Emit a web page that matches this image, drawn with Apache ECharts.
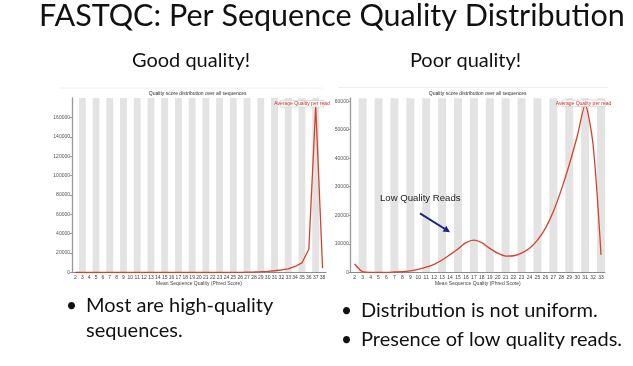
<!DOCTYPE html>
<html>
<head>
<meta charset="utf-8">
<script src="https://cdn.jsdelivr.net/npm/echarts@6/dist/echarts.min.js"></script>
<style>
html,body{margin:0;padding:0;background:#fff;}
#main{width:633px;height:366px;}
</style>
</head>
<body>
<div id="main"></div>
<script>
// ---- data ----
const goodCategories = ['2','3','4','5','6','7','8','9','10','11','12','13','14','15','16','17','18','19','20','21','22','23','24','25','26','27','28','29','30','31','32','33','34','35','36','37','38'];
const goodValues = [0,0,0,0,0,0,0,0,0,0,0,0,0,0,0,0,0,0,0,0,0,0,50,100,200,350,500,800,1200,1800,2600,3800,6200,10000,24000,172000,4500];
const poorCategories = ['2','3','4','5','6','7','8','9','10','11','12','13','14','15','16','17','18','19','20','21','22','23','24','25','26','27','28','29','30','31','32','33'];
const poorValues = [2900,200,0,0,0,100,200,500,1000,1800,2800,4300,6200,8200,10400,11300,10400,8400,6700,5700,5800,6700,8400,11300,15400,21300,28900,37700,47600,58700,44700,6100];
const seriesName = 'Average Quality per read';
const chartTitle = 'Quality score distribution over all sequences';
const xAxisName = 'Mean Sequence Quality (Phred Score)';
const slideTitle = 'FASTQC: Per Sequence Quality Distribution';
const leftHeading = 'Good quality!';
const rightHeading = 'Poor quality!';
const leftBullets = ['Most are high-quality', 'sequences.'];
const rightBullets = ['Distribution is not uniform.', 'Presence of low quality reads.'];
const annotation = 'Low Quality Reads';

const chart = echarts.init(document.getElementById('main'), null, {renderer:'canvas'});
const red = '#d8402c';
const slideFont = 'Lato';

function xAx(gi, cats){
  return {
    gridIndex: gi, type:'category', data: cats, boundaryGap: true,
    axisLine:{show:true, lineStyle:{color:'#8a8a8a', width:1}},
    axisTick:{show:false},
    axisLabel:{fontSize:5, color:'#444', margin:2.5, interval:0, fontFamily:'Liberation Sans'},
    splitLine:{show:false},
    splitArea:{show:true, interval:0, areaStyle:{color:['rgba(255,255,255,0)','#e3e3e3']}},
    name: xAxisName, nameLocation:'middle', nameGap:9,
    nameTextStyle:{fontSize:5, color:'#444', fontFamily:'Liberation Sans'}
  };
}
function yAx(gi, max, interval){
  return {
    gridIndex: gi, type:'value', min:0, max:max, interval:interval,
    axisLine:{show:true, lineStyle:{color:'#999', width:1.3}},
    axisTick:{show:true, length:2, lineStyle:{color:'#999'}},
    axisLabel:{fontSize:5, color:'#555', margin:2, showMaxLabel:false, fontFamily:'Liberation Sans',
      formatter:function(v){return String(v);}},
    splitLine:{show:false}
  };
}

const option = {
  backgroundColor:'#fff',
  animation:false,
  grid:[
    {left:72, top:98, width:254, height:174.5},
    {left:350.7, top:98.3, width:254.3, height:174}
  ],
  xAxis:[xAx(0, goodCategories), xAx(1, poorCategories)],
  yAxis:[yAx(0, 180000, 20000), yAx(1, 61000, 10000)],
  series:[
    {name:seriesName, type:'line', xAxisIndex:0, yAxisIndex:0, data:goodValues,
     symbol:'none', lineStyle:{color:red, width:1.3}, z:3},
    {name:seriesName, type:'line', xAxisIndex:1, yAxisIndex:1, data:poorValues,
     symbol:'none', smooth:0.25, lineStyle:{color:red, width:1.3}, z:3}
  ],
  graphic:[
    // slide texts
    {type:'text', left:39, top:1, style:{text:slideTitle, font:'30.5px '+slideFont, fill:'#111'}},
    {type:'text', x:191, y:61, style:{text:leftHeading, font:'20px '+slideFont, fill:'#111', align:'center', verticalAlign:'middle'}},
    {type:'text', x:465.5, y:61, style:{text:rightHeading, font:'20px '+slideFont, fill:'#111', align:'center', verticalAlign:'middle'}},
    {type:'text', x:66, y:306, style:{text:'\u2022', font:'19px '+slideFont, fill:'#111', verticalAlign:'middle'}},
    {type:'text', x:86, y:306, style:{text:leftBullets[0], font:'20px '+slideFont, fill:'#111', verticalAlign:'middle'}},
    {type:'text', x:86, y:331, style:{text:leftBullets[1], font:'20px '+slideFont, fill:'#111', verticalAlign:'middle'}},
    {type:'text', x:341, y:311, style:{text:'\u2022', font:'19px '+slideFont, fill:'#111', verticalAlign:'middle'}},
    {type:'text', x:361, y:311, style:{text:rightBullets[0], font:'20px '+slideFont, fill:'#111', verticalAlign:'middle'}},
    {type:'text', x:341, y:340, style:{text:'\u2022', font:'19px '+slideFont, fill:'#111', verticalAlign:'middle'}},
    {type:'text', x:361, y:340, style:{text:rightBullets[1], font:'20px '+slideFont, fill:'#111', verticalAlign:'middle'}},
    // faint frames above charts
    {type:'line', shape:{x1:59, y1:88, x2:322, y2:88}, style:{stroke:'#eeeeee', lineWidth:1}},
    {type:'line', shape:{x1:338, y1:87.5, x2:608, y2:87.5}, style:{stroke:'#eeeeee', lineWidth:1}},
    // small chart titles
    {type:'text', x:197.7, y:94, style:{text:chartTitle, font:'5px Liberation Sans', fill:'#333', align:'center', verticalAlign:'middle'}},
    {type:'text', x:477.7, y:93.3, style:{text:chartTitle, font:'5px Liberation Sans', fill:'#333', align:'center', verticalAlign:'middle'}},
    // legend boxes
    {type:'rect', shape:{x:280, y:100.5, width:44, height:6.5}, style:{fill:'#fff', stroke:'#c8c8c8', lineWidth:0.6}, z:10},
    {type:'text', x:302, y:103.8, style:{text:seriesName, font:'5px Liberation Sans', fill:'#d62a1e', align:'center', verticalAlign:'middle'}, z:11},
    {type:'rect', shape:{x:562, y:100, width:43, height:6.5}, style:{fill:'#fff', stroke:'#c8c8c8', lineWidth:0.6}, z:10},
    {type:'text', x:583.5, y:103.3, style:{text:seriesName, font:'5px Liberation Sans', fill:'#d62a1e', align:'center', verticalAlign:'middle'}, z:11},
    // annotation
    {type:'text', x:380, y:198, style:{text:annotation, font:'9.6px Liberation Sans', fill:'#222', verticalAlign:'middle'}, z:11},
    {type:'line', shape:{x1:420, y1:213.3, x2:445, y2:229}, style:{stroke:'#1c2580', lineWidth:2}, z:11},
    {type:'polygon', shape:{points:[[450,232.3],[442.6,231.6],[446.2,225.8]]}, style:{fill:'#1c2580'}, z:11}
  ]
};
chart.setOption(option);
</script>
</body>
</html>
